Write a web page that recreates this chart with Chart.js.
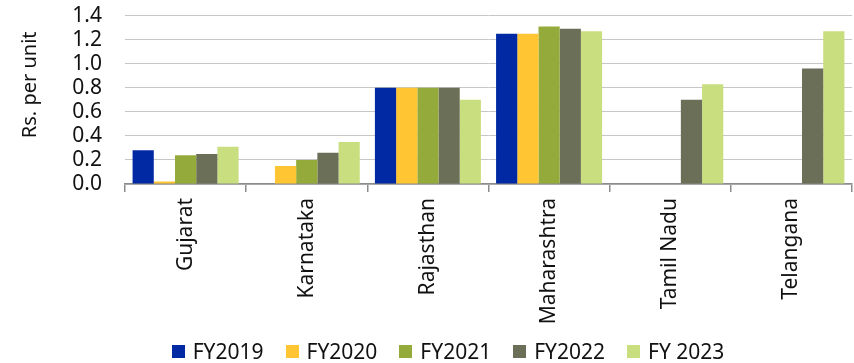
<!DOCTYPE html>
<html>
<head>
<meta charset="utf-8">
<script src="https://cdn.jsdelivr.net/npm/chart.js@4/dist/chart.umd.min.js"></script>
<style>
  html, body { margin: 0; padding: 0; background: #fff; }
  #wrap { position: relative; width: 854px; height: 363px; }
  #legend {
    position: absolute; left: 42px; right: 0; top: 339px;
    display: flex; justify-content: center; gap: 22px;
    font: 21px "Noto Sans", sans-serif; color: #111;
  }
  #legend .item { display: flex; align-items: center; line-height: 24px; }
  #legend .box { width: 13px; height: 13px; margin-right: 8px; }
</style>
</head>
<body>
<div id="wrap">
  <canvas id="chart" width="854" height="363"></canvas>
  <div id="legend"></div>
</div>
<script>
const states = ["Gujarat", "Karnataka", "Rajasthan", "Maharashtra", "Tamil Nadu", "Telangana"];
const seriesNames = ["FY2019", "FY2020", "FY2021", "FY2022", "FY 2023"];
const fy2019 = [0.28, null, 0.80, 1.25, null, null];
const fy2020 = [0.02, 0.15, 0.80, 1.25, null, null];
const fy2021 = [0.24, 0.20, 0.80, 1.31, null, null];
const fy2022 = [0.25, 0.26, 0.80, 1.29, 0.70, 0.96];
const fy2023 = [0.31, 0.35, 0.70, 1.27, 0.83, 1.27];
const yTicks = [0, 0.2, 0.4, 0.6, 0.8, 1.0, 1.2, 1.4];
const colors = ["#0029a3", "#ffc532", "#94ab3c", "#6b6f58", "#c9de7e"];

const seriesValues = [fy2019, fy2020, fy2021, fy2022, fy2023];
const font = { family: "'Noto Sans', sans-serif", size: 21 };

// y axis title, sits a little above the middle of the plot
const yTitle = {
    id: "yTitle",
    afterDraw(chart, args, opts) {
        const { ctx, chartArea } = chart;
        ctx.save();
        ctx.translate(opts.x, (chartArea.top + chartArea.bottom) / 2 + opts.shift);
        ctx.rotate(-Math.PI / 2);
        ctx.font = "20px 'Noto Sans', sans-serif";
        ctx.fillStyle = "#111";
        ctx.textAlign = "center";
        ctx.textBaseline = "middle";
        ctx.fillText(opts.text, 0, 0);
        ctx.restore();
    }
};

const chart = new Chart(document.getElementById("chart").getContext("2d"), {
    type: "bar",
    data: {
        labels: states,
        datasets: seriesNames.map((name, i) => ({
            label: name,
            data: seriesValues[i],
            backgroundColor: colors[i],
            borderWidth: 0,
            categoryPercentage: 0.875,
            barPercentage: 1.0
        }))
    },
    plugins: [yTitle],
    options: {
        responsive: false,
        animation: false,
        layout: { padding: { top: 3, right: 2, left: 0, bottom: 0 } },
        plugins: {
            legend: { display: false },
            tooltip: { enabled: false },
            yTitle: { text: "Rs. per unit", x: 30, shift: -15 }
        },
        scales: {
            x: {
                grid: { drawOnChartArea: false, drawTicks: true, tickLength: 8, color: "#8c8c8c", lineWidth: 1.5 },
                border: { color: "#8c8c8c", width: 1.5 },
                ticks: { font: font, color: "#111", minRotation: 90, maxRotation: 90, padding: 6 },
                afterFit(scale) { scale.height = 179; }
            },
            y: {
                min: 0,
                max: 1.4,
                grid: { color: "#c6c6c6", lineWidth: 1, drawTicks: true, tickLength: 20, tickColor: "rgba(0,0,0,0)" },
                border: { display: false },
                ticks: {
                    autoSkip: false,
                    font: font,
                    color: "#111",
                    padding: 3,
                    callback: v => v.toFixed(1)
                },
                afterBuildTicks(scale) { scale.ticks = yTicks.map(v => ({ value: v })); },
                afterFit(scale) { scale.width = 125; }
            }
        }
    }
});

// legend row under the chart
const legendEl = document.getElementById("legend");
legendEl.innerHTML = seriesNames.map((name, i) =>
    `<span class="item"><span class="box" style="background:${colors[i]}"></span>${name}</span>`
).join("");
</script>
</body>
</html>
